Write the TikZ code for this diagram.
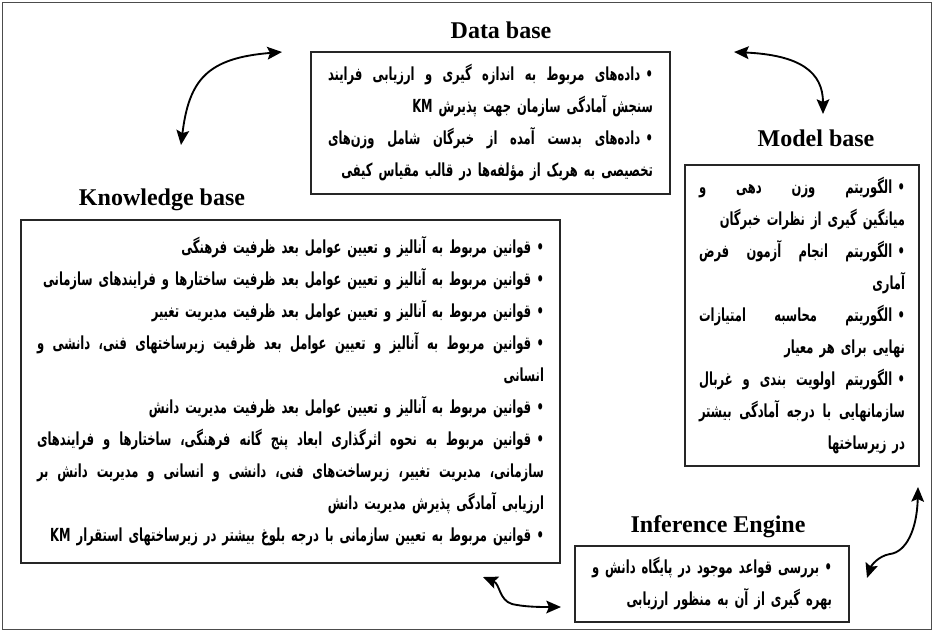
\documentclass[tikz,border=0pt]{standalone}
\usepackage{fontspec}
\setmainfont{Liberation Serif}
\newfontfamily\fa[Script=Arabic, FakeStretch=0.64]{DejaVu Sans}
\TeXXeTstate=1
\usetikzlibrary{arrows.meta}
\hbadness=10000
\hfuzz=50pt
% justified line: words placed in visual order (right to left), separated by stretchable glue
\makeatletter
\def\jl#1{\def\jlacc{}\jlscan#1 \jlstop\hbox to \linewidth{\jlacc}}
\def\jlscan#1 #2\jlstop{%
  \ifx\jlacc\@empty
    \def\jlacc{\beginR #1\endR}%
  \else
    \edef\jlacc{\unexpanded{\beginR #1\endR\hskip 0.25em plus 1fil}\unexpanded\expandafter{\jlacc}}%
  \fi
  \if\relax\detokenize{#2}\relax\else\jlscan#2\jlstop\fi}
\makeatother
\newcommand\rl[1]{\hbox to \linewidth{\hfil\beginR #1\endR}}
\newcommand\bul{•\kern 0.3em}
\begin{document}
\begin{tikzpicture}[x=0.75pt,y=-0.75pt,
  box/.style={draw=black!85, line width=1.3pt, fill=white, inner ysep=0pt,
    font=\fa\bfseries\fontsize{13.5}{24}\selectfont},
  ttl/.style={font=\fontsize{18}{20}\selectfont\bfseries, inner sep=0pt, anchor=base},
  frame/.style={draw=black!70, line width=0.8pt},
  arr/.style={line width=1.4pt,
    {Stealth[length=11pt,width=9.5pt,inset=2pt]}-{Stealth[length=11pt,width=9.5pt,inset=2pt]}}
]
\useasboundingbox (0,0) rectangle (934,632);
\draw[frame] (2.5,2.5) rectangle (931.5,629.5);

% titles
\node[ttl] (dbt) at (501,38) {Data base};
\node[ttl] (mbt) at (816,146) {Model base};
\node[ttl] (kbt) at (162,205) {Knowledge base};
\node[ttl] (iet) at (718,532) {Inference Engine};

% Data base
\node[box, minimum width=269.25pt, minimum height=106.5pt, inner xsep=12.75pt,
  text width=243.75pt] (db) at (490.5,123) {%
\jl{\bul داده^^^^200cهای مربوط به اندازه گیری و ارزیابی فرایند}
\rl{سنجش آمادگی سازمان جهت پذیرش \beginL KM\endL}
\jl{\bul داده^^^^200cهای بدست آمده از خبرگان شامل وزن^^^^200cهای}
\rl{تخصیصی به هریک از مؤلفه^^^^200cها در قالب مقیاس کیفی}};

% Model base
\node[box, minimum width=175.5pt, minimum height=225.75pt, inner xsep=10.5pt,
  text width=154.5pt] (mb) at (802,315.5) {%
\jl{\bul الگوریتم وزن دهی و}
\rl{میانگین گیری از نظرات خبرگان}
\jl{\bul الگوریتم انجام آزمون فرض}
\rl{آماری}
\jl{\bul الگوریتم محاسبه امتیازات}
\rl{نهایی برای هر معیار}
\jl{\bul الگوریتم اولویت بندی و غربال}
\jl{سازمانهایی با درجه آمادگی بیشتر}
\rl{در زیرساختها}};

% Knowledge base
\node[box, minimum width=404.25pt, minimum height=257.25pt, inner xsep=12pt,
  text width=380.25pt] (kb) at (290.5,391.5) {%
\rl{\bul قوانین مربوط به آنالیز و تعیین عوامل بعد ظرفیت فرهنگی}
\rl{\bul قوانین مربوط به آنالیز و تعیین عوامل بعد ظرفیت ساختارها و فرایندهای سازمانی}
\rl{\bul قوانین مربوط به آنالیز و تعیین عوامل بعد ظرفیت مدیریت تغییر}
\jl{\bul قوانین مربوط به آنالیز و تعیین عوامل بعد ظرفیت زیرساختهای فنی، دانشی و}
\rl{انسانی}
\rl{\bul قوانین مربوط به آنالیز و تعیین عوامل بعد ظرفیت مدیریت دانش}
\jl{\bul قوانین مربوط به نحوه اثرگذاری ابعاد پنج گانه فرهنگی، ساختارها و فرایندهای}
\jl{سازمانی، مدیریت تغییر، زیرساخت^^^^200cهای فنی، دانشی و انسانی و مدیریت دانش بر}
\rl{ارزیابی آمادگی پذیرش مدیریت دانش}
\rl{\bul قوانین مربوط به تعیین سازمانی با درجه بلوغ بیشتر در زیرساختهای استقرار \beginL KM\endL}};

% Inference engine
\node[box, minimum width=205.5pt, minimum height=57pt, inner xsep=12.75pt,
  text width=180pt] (ie) at (712,584) {%
\jl{\bul بررسی قواعد موجود در پایگاه دانش و}
\rl{بهره گیری از آن به منظور ارزیابی}};

% connectors
\coordinate (a1) at (282,52);  \coordinate (a2) at (181,145);
\coordinate (a3) at (734,52);  \coordinate (a4) at (823,114);
\coordinate (a5) at (918,487); \coordinate (a6) at (867,578);
\coordinate (a7) at (483,577); \coordinate (a8) at (561,607);
\draw[arr] (a1) .. controls (207,58) and (189,80) .. (a2);
\draw[arr] (a3) .. controls (800,55) and (823,72) .. (a4);
\draw[arr] (a5) .. controls (917,530) and (906,552) .. (890,554)
  .. controls (878,556) and (871,566) .. (a6);
\draw[arr] (a7) .. controls (500,584) and (499,600) .. (512,604)
  .. controls (525,607) and (540,607) .. (a8);
\end{tikzpicture}
\end{document}
